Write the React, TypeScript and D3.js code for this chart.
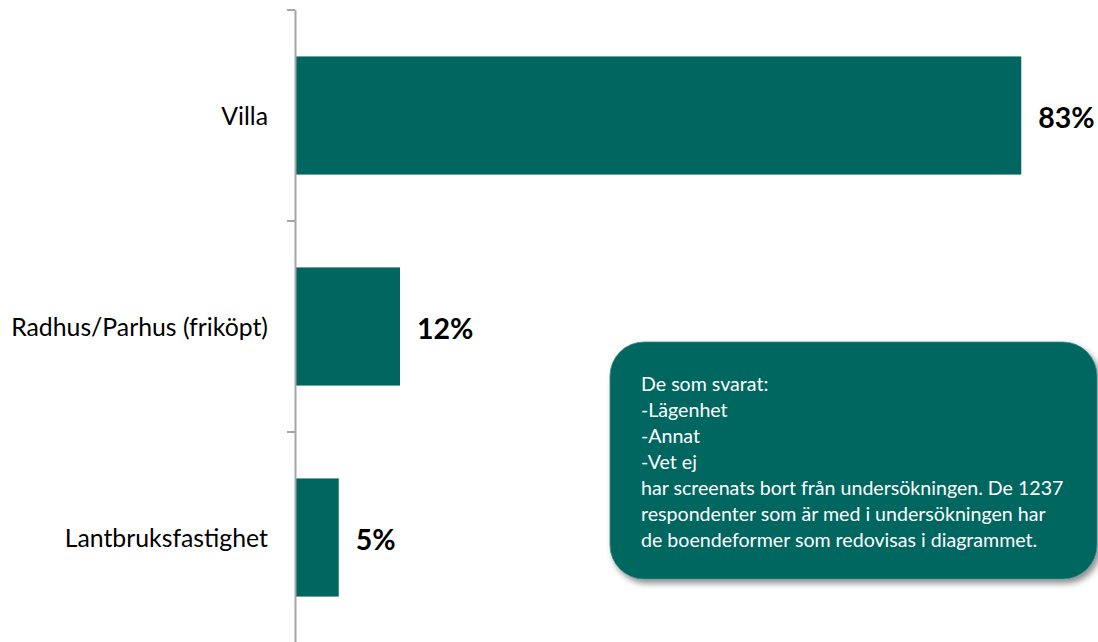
import React from "react";
import * as d3 from "d3";

const categories = ["Villa", "Radhus/Parhus (friköpt)", "Lantbruksfastighet"];
const values = [83, 12, 5];
const valueLabels = ["83%", "12%", "5%"];
const noteLines = [
  "De som svarat:",
  "-Lägenhet",
  "-Annat",
  "-Vet ej",
  "har screenats bort från undersökningen. De 1237",
  "respondenter som är med i undersökningen har",
  "de boendeformer som redovisas i diagrammet.",
];

const W = 1098;
const H = 642;
const FONT = "Lato, 'Open Sans', sans-serif";
const TEAL = "#016660";

export default function App() {
  const x = d3.scaleLinear().domain([0, 100]).range([295, 1170]);
  const y = d3.scaleBand<string>().domain(categories).range([10, 643]).paddingInner(0.44).paddingOuter(0.22);
  const tickYs = [10, 10 + 211, 10 + 422, 10 + 633];

  return (
    <div style={{ position: "fixed", left: 0, top: 0 }}>
      <svg width={W} height={H} style={{ display: "block", background: "#fff" }}>
        <defs>
          <filter id="sh" x="-10%" y="-10%" width="130%" height="130%">
            <feGaussianBlur in="SourceAlpha" stdDeviation="3" />
            <feOffset dx="3" dy="4" result="ob" />
            <feComponentTransfer>
              <feFuncA type="linear" slope="0.45" />
            </feComponentTransfer>
            <feMerge>
              <feMergeNode />
              <feMergeNode in="SourceGraphic" />
            </feMerge>
          </filter>
        </defs>
        {categories.map((c, i) => (
          <rect
            key={c}
            x={x(0)}
            y={y(c)!}
            width={x(values[i]) - x(0)}
            height={y.bandwidth()}
            fill={TEAL}
          />
        ))}
        <line x1={295.5} x2={295.5} y1={10} y2={H} stroke="#a6a6a6" strokeWidth={2} />
        {tickYs.map((t) => (
          <line key={t} x1={287} x2={295} y1={t} y2={t} stroke="#a6a6a6" strokeWidth={2} />
        ))}
        {categories.map((c) => (
          <text
            key={c}
            x={268}
            y={y(c)! + y.bandwidth() / 2}
            textAnchor="end"
            dominantBaseline="central"
            fontFamily={FONT}
            fontSize={24.8}
            fill="#000"
          >
            {c}
          </text>
        ))}
        {categories.map((c, i) => (
          <text
            key={c}
            x={x(values[i]) + 17}
            y={y(c)! + y.bandwidth() / 2 + 1}
            dominantBaseline="central"
            fontFamily={FONT}
            fontWeight="bold"
            fontSize={28.5}
            fill="#000"
          >
            {valueLabels[i]}
          </text>
        ))}
        <rect x={610} y={342} width={487} height={237} rx={34} ry={34} fill={TEAL} stroke="#3d8c86" strokeWidth={0.8} filter="url(#sh)" />
        {noteLines.map((l, i) => (
          <text
            key={i}
            x={641}
            y={383 + i * 26}
            dominantBaseline="central"
            fontFamily={FONT}
            fontSize={19.6}
            fill="#fff"
          >
            {l}
          </text>
        ))}
      </svg>
    </div>
  );
}
